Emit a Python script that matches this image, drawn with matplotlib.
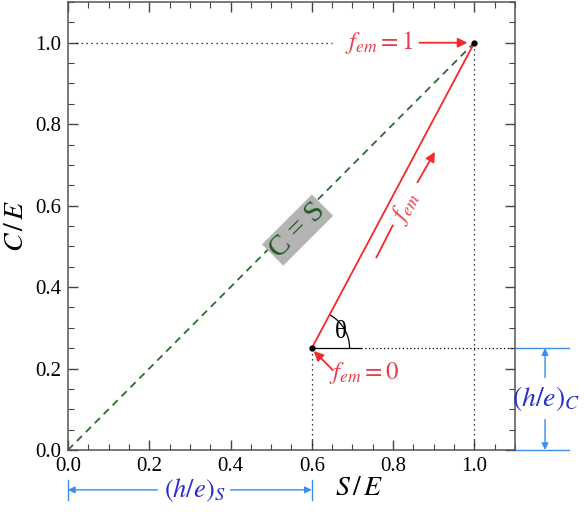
import numpy as np
import matplotlib
matplotlib.use("Agg")
import matplotlib.pyplot as plt
from matplotlib.patches import Arc
from matplotlib.ticker import MultipleLocator

plt.rcParams["font.family"] = "serif"
plt.rcParams["font.serif"] = ["Liberation Serif", "Nimbus Roman", "Times New Roman", "DejaVu Serif"]
plt.rcParams["mathtext.fontset"] = "stix"

# end points of the two paths in the S/E - C/E plane
start_pt = (0.6, 0.25)   # f_em = 0
end_pt = (1.0, 1.0)      # f_em = 1
diag_x = [0.0, 1.0]
diag_y = [0.0, 1.0]
ticks = [0.0, 0.2, 0.4, 0.6, 0.8, 1.0]

red = "#f22a2a"
red_txt = "#e8404a"
green = "#2e6b2e"
blue_txt = "#2b2bd0"
blue = "#3b8fe8"

fig = plt.figure(figsize=(5.84, 5.12), dpi=100)
ax = fig.add_axes([0.1164, 0.1211, 0.7654, 0.875])
ax.set_xlim(0, 1.1)
ax.set_ylim(0, 1.1)

# C = S diagonal
ax.plot(diag_x, diag_y, ls=(0, (4, 3)), color=green, lw=1.3)
# path from f_em = 0 to f_em = 1
ax.plot([start_pt[0], end_pt[0]], [start_pt[1], end_pt[1]], color=red, lw=1.3, zorder=3)
ax.plot(*zip(start_pt, end_pt), "o", color="black", ms=3.5, zorder=4)

# guide lines
ax.plot([0.02, 0.65], [1.0, 1.0], ls=(0, (1, 3)), color="black", lw=0.9)
ax.plot([1.0, 1.0], [0.0, 1.0], ls=(0, (1, 3)), color="black", lw=0.9)
ax.plot([0.6, 0.6], [0.0, 0.25], ls=(0, (1, 3)), color="black", lw=0.9)
ax.plot([0.6, 0.72], [0.25, 0.25], color="black", lw=0.9)
ax.plot([0.72, 1.1], [0.25, 0.25], ls=(0, (1, 2)), color="black", lw=0.9)

# angle theta
theta = np.degrees(np.arctan2(end_pt[1] - start_pt[1], end_pt[0] - start_pt[0]))
ax.add_patch(Arc(start_pt, 0.186, 0.186, theta1=0, theta2=theta, color="black", lw=0.9))
ax.text(0.672, 0.29, "θ", fontsize=18, ha="center", va="center")

# C = S label
ax.text(0.565, 0.54, "C = S", rotation=45, fontsize=21, color="#1d5a1d",
        ha="center", va="center",
        bbox=dict(facecolor="#b4b4b4", edgecolor="none", pad=1.5))

arrow_red = dict(arrowstyle="-|>", color=red, lw=1.3, shrinkA=0, shrinkB=0, mutation_scale=14)

# f_em labels
ax.text(0.765, 1.0, r"$f_{em}=1$", fontsize=18, color=red_txt, ha="center", va="center")
ax.annotate("", xy=(0.983, 1.0), xytext=(0.865, 1.0), arrowprops=arrow_red)
ax.text(0.728, 0.19, r"$f_{em}=0$", fontsize=18, color=red_txt, ha="center", va="center")
ax.annotate("", xy=(0.605, 0.243), xytext=(0.652, 0.196), arrowprops=arrow_red)
ax.plot([0.759, 0.799], [0.473, 0.551], color=red, lw=1.3)
ax.annotate("", xy=(0.903, 0.732), xytext=(0.860, 0.657), arrowprops=arrow_red)
ax.text(0.83, 0.595, r"$f_{em}$", rotation=theta, fontsize=18, color=red_txt,
        ha="center", va="center")

# (h/e)_C span on the right
arrow_blue = dict(arrowstyle="-|>", color=blue, lw=1.0, shrinkA=0, shrinkB=0, mutation_scale=10)
for yy in (0.0, 0.25):
    ax.plot([1.1, 1.233], [yy, yy], color=blue, lw=1.0, clip_on=False)
ax.annotate("", xy=(1.174, 0.25), xytext=(1.174, 0.178), annotation_clip=False,
            arrowprops=arrow_blue)
ax.annotate("", xy=(1.174, 0.0), xytext=(1.174, 0.075), annotation_clip=False,
            arrowprops=arrow_blue)
ax.text(1.176, 0.127, r"$(h/e)_C$", fontsize=20, color=blue_txt, ha="center", va="center",
        clip_on=False)

# (h/e)_S span below
for xx in (0.0, 0.6):
    ax.plot([xx, xx], [-0.074, -0.123], color=blue, lw=1.0, clip_on=False)
ax.annotate("", xy=(0.0, -0.098), xytext=(0.22, -0.098), annotation_clip=False,
            arrowprops=arrow_blue)
ax.annotate("", xy=(0.6, -0.098), xytext=(0.40, -0.098), annotation_clip=False,
            arrowprops=arrow_blue)
ax.text(0.312, -0.098, r"$(h/e)_S$", fontsize=19, color=blue_txt, ha="center", va="center",
        clip_on=False)

# axes styling
ax.set_xticks(ticks)
ax.set_yticks(ticks)
ax.set_xticklabels([f"{t:.1f}" for t in ticks])
ax.set_yticklabels([f"{t:.1f}" for t in ticks])
ax.xaxis.set_minor_locator(MultipleLocator(0.05))
ax.yaxis.set_minor_locator(MultipleLocator(0.05))
ax.tick_params(which="both", direction="in", top=True, right=True, colors="#444444",
               labelcolor="black", labelsize=15, pad=5)
ax.tick_params(which="major", length=7, width=1)
ax.tick_params(which="minor", length=4, width=0.8)
for sp in ax.spines.values():
    sp.set_color("#555555")
    sp.set_linewidth(1.1)

ax.set_xlabel(r"$S\,/\,E$", fontsize=20)
ax.xaxis.set_label_coords(0.652, -0.058)
ax.set_ylabel(r"$C\,/\,E$", fontsize=20, labelpad=4)

fig.savefig("out.png", dpi=100)
